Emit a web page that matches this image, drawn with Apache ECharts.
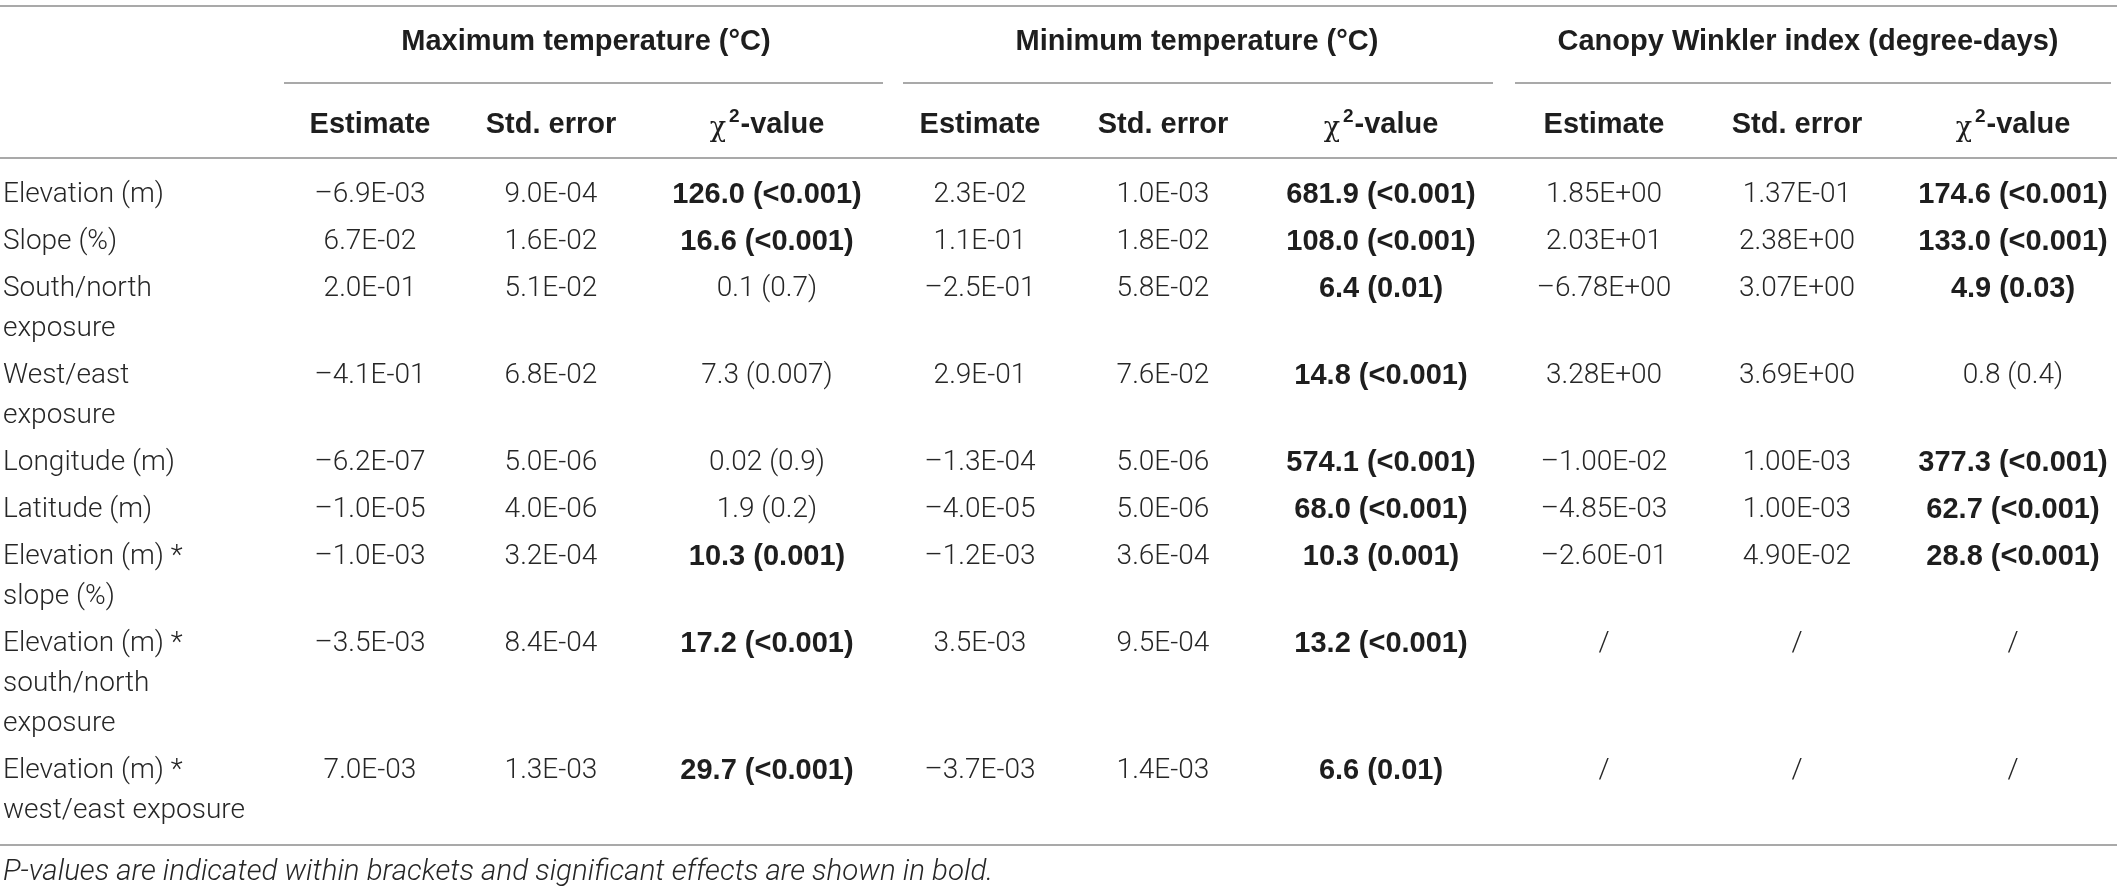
<!DOCTYPE html>
<html>
<head>
    <meta charset="utf-8">
    <title>Table</title>
    <script src="https://cdn.jsdelivr.net/npm/echarts@6/dist/echarts.min.js"></script>
    <style>html, body { margin: 0; padding: 0; background: #fff; }</style>
</head>
<body>
<div id="main" style="width:2117px;height:893px;"></div>
<script type="text/javascript">

    // row labels (\n = line break inside the cell)
    var rowLabels = [
        'Elevation (m)',
        'Slope (%)',
        'South/north\nexposure',
        'West/east\nexposure',
        'Longitude (m)',
        'Latitude (m)',
        'Elevation (m) *\nslope (%)',
        'Elevation (m) *\nsouth/north\nexposure',
        'Elevation (m) *\nwest/east exposure'
    ];

    var groupTitles = ['Maximum temperature (°C)', 'Minimum temperature (°C)', 'Canopy Winkler index (degree-days)'];
    var subTitles = ['Estimate', 'Std. error', 'χ2-value'];

    // maximum temperature
    var maxEstimate = ['–6.9E-03', '6.7E-02', '2.0E-01', '–4.1E-01', '–6.2E-07', '–1.0E-05', '–1.0E-03', '–3.5E-03', '7.0E-03'];
    var maxStdError = ['9.0E-04', '1.6E-02', '5.1E-02', '6.8E-02', '5.0E-06', '4.0E-06', '3.2E-04', '8.4E-04', '1.3E-03'];
    var maxChi = ['126.0 (<0.001)', '16.6 (<0.001)', '0.1 (0.7)', '7.3 (0.007)', '0.02 (0.9)', '1.9 (0.2)', '10.3 (0.001)', '17.2 (<0.001)', '29.7 (<0.001)'];
    var maxSignificant = [1, 1, 0, 0, 0, 0, 1, 1, 1];

    // minimum temperature
    var minEstimate = ['2.3E-02', '1.1E-01', '–2.5E-01', '2.9E-01', '–1.3E-04', '–4.0E-05', '–1.2E-03', '3.5E-03', '–3.7E-03'];
    var minStdError = ['1.0E-03', '1.8E-02', '5.8E-02', '7.6E-02', '5.0E-06', '5.0E-06', '3.6E-04', '9.5E-04', '1.4E-03'];
    var minChi = ['681.9 (<0.001)', '108.0 (<0.001)', '6.4 (0.01)', '14.8 (<0.001)', '574.1 (<0.001)', '68.0 (<0.001)', '10.3 (0.001)', '13.2 (<0.001)', '6.6 (0.01)'];
    var minSignificant = [1, 1, 1, 1, 1, 1, 1, 1, 1];

    // canopy winkler index
    var gddEstimate = ['1.85E+00', '2.03E+01', '–6.78E+00', '3.28E+00', '–1.00E-02', '–4.85E-03', '–2.60E-01', '/', '/'];
    var gddStdError = ['1.37E-01', '2.38E+00', '3.07E+00', '3.69E+00', '1.00E-03', '1.00E-03', '4.90E-02', '/', '/'];
    var gddChi = ['174.6 (<0.001)', '133.0 (<0.001)', '4.9 (0.03)', '0.8 (0.4)', '377.3 (<0.001)', '62.7 (<0.001)', '28.8 (<0.001)', '/', '/'];
    var gddSignificant = [1, 1, 1, 0, 1, 1, 1, 0, 0];

    var footnote = 'P-values are indicated within brackets and significant effects are shown in bold.';

    // ---- layout (pixel space of the hidden value axes) ----
    var W = 2117, H = 893;
    var labelX = 3;
    var colX = [370, 551, 767, 980, 1163, 1381, 1604, 1797, 2013];
    var groupX = [586, 1197, 1808];
    var groupLine = [[284, 883], [903, 1493], [1515, 2111]];
    var firstRowY = 195, rowStep = 47, lineH = 40;

    var rowY = [];
    var y = firstRowY;
    for (var i = 0; i < rowLabels.length; i++) {
        rowY.push(y);
        y += rowStep + (rowLabels[i].split('\n').length - 1) * lineH;
    }

    var regular = {fontFamily: 'Roboto', fontWeight: 300, fontSize: 28, fill: '#262626'};
    var bold = {fontFamily: 'Liberation Sans', fontWeight: 'bold', fontSize: 29, fill: '#1e1e1e'};

    // cells: value = [column, row]
    var columns = [
        [maxEstimate, null], [maxStdError, null], [maxChi, maxSignificant],
        [minEstimate, null], [minStdError, null], [minChi, minSignificant],
        [gddEstimate, null], [gddStdError, null], [gddChi, gddSignificant]
    ];
    var cells = [];
    for (var r = 0; r < rowLabels.length; r++) {
        cells.push({value: [-1, r], text: rowLabels[r], bold: false});
        for (var c = 0; c < columns.length; c++) {
            var sig = columns[c][1];
            cells.push({value: [c, r], text: columns[c][0][r], bold: !!(sig && sig[r])});
        }
    }

    function renderCell(params, api) {
        var c = api.value(0), r = api.value(1);
        var cell = cells[params.dataIndex];
        var x = c < 0 ? labelX : colX[c];
        var p = api.coord([x, rowY[r] - lineH / 2]);
        var f = cell.bold ? bold : regular;
        return {
            type: 'text',
            style: {
                x: p[0], y: p[1],
                text: cell.text,
                fontFamily: f.fontFamily, fontWeight: f.fontWeight, fontSize: f.fontSize,
                fill: f.fill,
                lineHeight: lineH,
                align: c < 0 ? 'left' : 'center',
                verticalAlign: 'top'
            }
        };
    }

    // header texts: [x, y, kind]
    var headers = [];
    for (var g = 0; g < 3; g++) {
        headers.push({value: [groupX[g], 42], text: groupTitles[g], kind: 'group'});
        for (var s = 0; s < 3; s++) {
            headers.push({value: [colX[g * 3 + s], 125], text: subTitles[s], kind: s === 2 ? 'chi' : 'sub'});
        }
    }
    headers.push({value: [labelX, 873], text: footnote, kind: 'note'});

    function renderHeader(params, api) {
        var h = headers[params.dataIndex];
        var p = api.coord([api.value(0), api.value(1)]);
        var style = {
            x: p[0], y: p[1],
            fontFamily: bold.fontFamily, fontWeight: 'bold', fontSize: 29, fill: '#1e1e1e',
            align: 'center', verticalAlign: 'middle', text: h.text
        };
        if (h.kind === 'chi') {
            style.text = '{chi|χ}{sup|2}{b|-value}';
            style.rich = {
                chi: {fontFamily: 'DejaVu Serif', fontWeight: 'normal', fontSize: 27, fill: '#1e1e1e', padding: [8, 3, 0, 0]},
                sup: {fontFamily: 'Liberation Sans', fontWeight: 'bold', fontSize: 19, fill: '#1e1e1e', padding: [0, 1, 16, 0]},
                b: {fontFamily: 'Liberation Sans', fontWeight: 'bold', fontSize: 29, fill: '#1e1e1e'}
            };
        } else if (h.kind === 'note') {
            style.fontFamily = 'Roboto';
            style.fontWeight = 300;
            style.fontStyle = 'italic';
            style.fontSize = 29.5;
            style.fill = '#262626';
            style.align = 'left';
        }
        return {type: 'text', style: style};
    }

    // horizontal rules: [x1, x2, y]
    var rules = [[0, W, 6], [0, W, 158], [0, W, 845]];
    for (var k = 0; k < groupLine.length; k++) {
        rules.push([groupLine[k][0], groupLine[k][1], 83]);
    }

    function renderRule(params, api) {
        var a = api.coord([api.value(0), api.value(2)]);
        var b = api.coord([api.value(1), api.value(2)]);
        return {
            type: 'line',
            shape: {x1: a[0], y1: a[1], x2: b[0], y2: b[1]},
            style: {stroke: '#8c8c8c', lineWidth: 1.6}
        };
    }

    var myChart = echarts.init(document.getElementById('main'));
    var option = {
        backgroundColor: '#ffffff',
        animation: false,
        grid: {left: 0, right: 0, top: 0, bottom: 0},
        xAxis: {type: 'value', min: 0, max: W, show: false},
        yAxis: {type: 'value', min: 0, max: H, inverse: true, show: false},
        series: [
            {type: 'custom', renderItem: renderRule, data: rules, silent: true},
            {type: 'custom', renderItem: renderHeader, data: headers, silent: true},
            {type: 'custom', renderItem: renderCell, data: cells, silent: true}
        ]
    };
    myChart.setOption(option);
</script>
</body>
</html>
